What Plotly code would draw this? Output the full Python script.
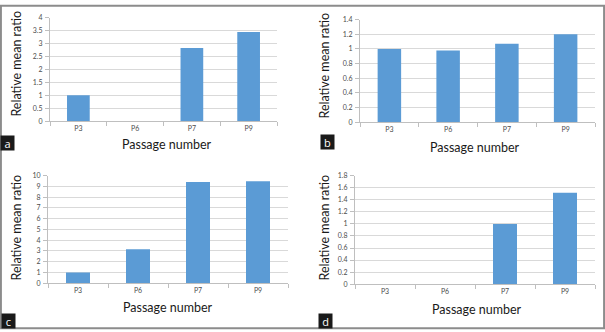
import plotly.graph_objects as go

categories = ["P3", "P6", "P7", "P9"]
values_a = [1.0, 0.0, 2.83, 3.45]
values_b = [1.0, 0.98, 1.07, 1.2]
values_c = [1.0, 3.15, 9.42, 9.5]
values_d = [0.0, 0.0, 1.0, 1.52]
panel_letters = ["a", "b", "c", "d"]

W, H = 605, 332
BAR = "#5B9BD5"
GRID = "#D9D9D9"
AXIS = "#BFBFBF"
TICKFONT = dict(family="Lato, Open Sans, sans-serif", size=7, color="#4d4d4d")
TITLEFONT = dict(family="Lato, Open Sans, sans-serif", size=12.5, color="#1a1a1a")

def px_x(p):
    return p / W

def px_y(p):
    return 1 - p / H

# panel layout: (x0, x1, ytop, ybottom) in pixels, y range, dtick
panels = [
    dict(vals=values_a, box=(50, 277, 13, 119), rng=4, dtick=0.5,
         ytitle=(17, 60), xtitle=(167, 143), letter=(7, 141)),
    dict(vals=values_b, box=(360, 595, 15, 120), rng=1.4, dtick=0.2,
         ytitle=(325, 62), xtitle=(475, 146), letter=(327, 140)),
    dict(vals=values_c, box=(48, 288, 175, 285), rng=10, dtick=1,
         ytitle=(17, 228), xtitle=(168, 310), letter=(8, 324)),
    dict(vals=values_d, box=(355, 595, 175, 286), rng=1.8, dtick=0.2,
         ytitle=(325, 228), xtitle=(477, 312), letter=(325, 324)),
]

fig = go.Figure()
annotations = []
for i, p in enumerate(panels):
    n = "" if i == 0 else str(i + 1)
    x0, x1, yt, yb = p["box"]
    fig.add_trace(go.Bar(x=categories, y=p["vals"], marker=dict(color=BAR, line=dict(width=0)),
                         xaxis="x" + n, yaxis="y" + n, showlegend=False))
    fig.layout["xaxis" + n] = dict(
        domain=[px_x(x0), px_x(x1)], anchor="y" + n, type="category",
        showline=True, linecolor=AXIS, linewidth=1, showgrid=False,
        ticks="outside", tickson="boundaries", ticklen=4, tickcolor=AXIS,
        tickfont=TICKFONT, fixedrange=True,
    )
    fig.layout["yaxis" + n] = dict(
        domain=[px_y(yb), px_y(yt)], anchor="x" + n, range=[0, p["rng"]],
        dtick=p["dtick"], showline=True, linecolor=AXIS, linewidth=1,
        showgrid=True, gridcolor=GRID, gridwidth=1, zeroline=False,
        ticks="outside", ticklen=4, tickcolor=AXIS, tickfont=TICKFONT,
        ticklabelstandoff=1, fixedrange=True,
    )
    tx, ty = p["ytitle"]
    annotations.append(dict(text="Relative mean ratio", x=px_x(tx), y=px_y(ty), xref="paper",
                            yref="paper", showarrow=False, textangle=-90, font=TITLEFONT,
                            xanchor="center", yanchor="middle"))
    tx, ty = p["xtitle"]
    annotations.append(dict(text="Passage number", x=px_x(tx), y=px_y(ty), xref="paper",
                            yref="paper", showarrow=False, font=TITLEFONT,
                            xanchor="center", yanchor="middle"))
    lx, ly = p["letter"]
    annotations.append(dict(text=panel_letters[i], x=px_x(lx), y=px_y(ly), xref="paper",
                            yref="paper", showarrow=False, bgcolor="#1a1a1a",
                            font=dict(family="Open Sans, sans-serif", size=11, color="white"),
                            xanchor="center", yanchor="middle", borderpad=0, width=13, height=14))

fig.update_layout(
    width=W, height=H, margin=dict(l=0, r=0, t=0, b=0),
    paper_bgcolor="white", plot_bgcolor="white", bargap=0.6,
    annotations=annotations, hovermode=False,
    shapes=[dict(type="rect", xref="paper", yref="paper", x0=0.0015, x1=0.9985, y0=0.002, y1=0.998,
                 line=dict(color="#8c8c8c", width=2))],
)

fig.write_html("out.html", config={"displayModeBar": False, "staticPlot": True},
               post_script="document.body.style.margin='0';document.body.style.overflow='hidden';")
